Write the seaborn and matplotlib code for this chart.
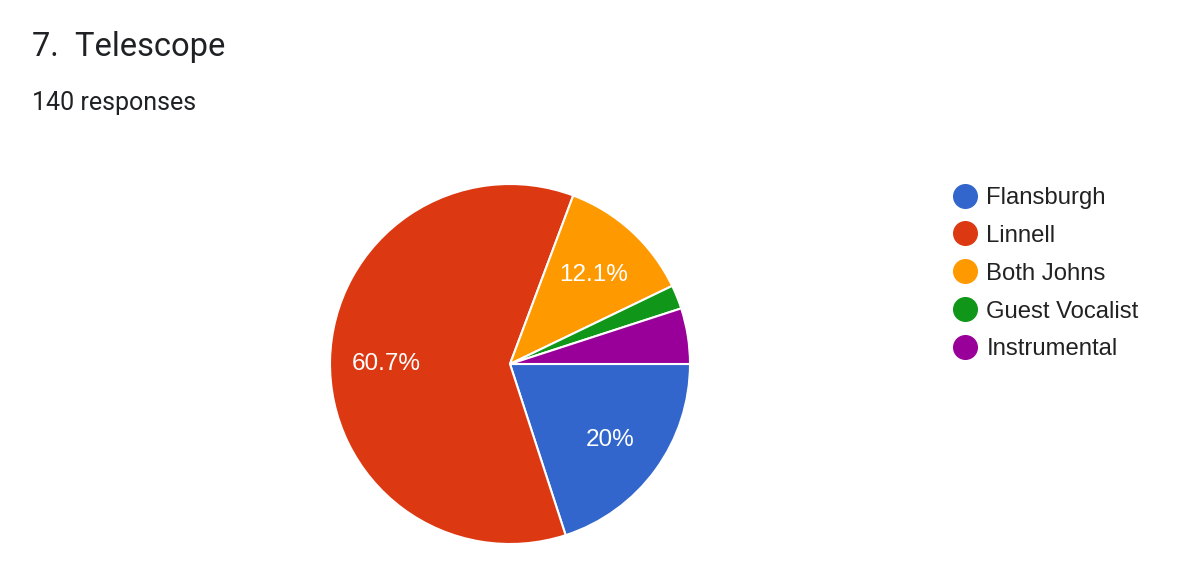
import matplotlib
matplotlib.use("Agg")
import matplotlib.pyplot as plt
from matplotlib.lines import Line2D
import seaborn as sns

# ── data ────────────────────────────────────────────────
categories = ["Flansburgh", "Linnell", "Both Johns", "Guest Vocalist", "Instrumental"]
counts = [28, 85, 17, 3, 7]
colors = ["#3366CC", "#DC3912", "#FF9900", "#109618", "#990099"]
title = "7.  Telescope"
subtitle = "140 responses"

sns.set_theme(style="white")
plt.rcParams["font.family"] = ["Liberation Sans", "DejaVu Sans"]

W, H = 1179, 569
fig = plt.figure(figsize=(W / 100, H / 100), dpi=100)
fig.patch.set_facecolor("white")

# pie axes: centre (510, 364) px, radius 180 px
cx, cy, r = 510, 364, 180
ax = fig.add_axes([(cx - r) / W, (H - cy - r) / H, 2 * r / W, 2 * r / H])


def _fmt(p):
    if p < 6:
        return ""
    return f"{p:.1f}%".replace(".0%", "%")


wedges, texts, autotexts = ax.pie(
    counts,
    colors=colors,
    startangle=0,
    counterclock=False,
    autopct=_fmt,
    pctdistance=0.69,
    wedgeprops=dict(edgecolor="white", linewidth=1.5),
    textprops=dict(color="white", fontsize=17.5,
                   family=["Liberation Sans", "DejaVu Sans"]),
)
for t in autotexts:
    t.set_va("center_baseline")
ax.set_xlim(-1, 1)
ax.set_ylim(-1, 1)
ax.set_axis_off()

# header
fig.text(32 / W, 1 - 47 / H, title, fontsize=23.5, color="#202124",
         family=["Roboto", "DejaVu Sans"], va="center", ha="left")
fig.text(32 / W, 1 - 103 / H, subtitle, fontsize=18, color="#202124",
         family=["Roboto", "DejaVu Sans"], va="center", ha="left")

# legend
handles = [
    Line2D([], [], marker="o", linestyle="", markersize=17,
           markerfacecolor=c, markeredgecolor=c)
    for c in colors
]
fig.legend(
    handles, categories,
    loc="upper left",
    bbox_to_anchor=(941 / W, 1 - 175 / H),
    frameon=False,
    prop=dict(family=["Liberation Sans", "DejaVu Sans"], size=17.2),
    labelspacing=0.665,
    handlelength=1.0,
    handletextpad=0.4,
    borderpad=0,
    labelcolor="#222222",
)

fig.savefig("out.png", dpi=100, facecolor="white")
